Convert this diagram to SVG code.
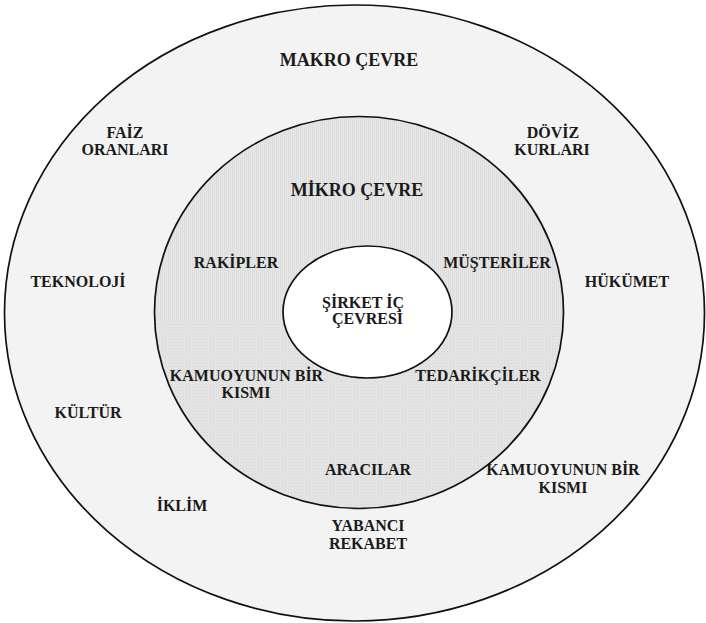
<svg xmlns="http://www.w3.org/2000/svg" width="706" height="623" viewBox="0 0 706 623">
  <style>
    .ring { stroke: #111; stroke-width: 1.7; }
    .lbl { font-family: "Liberation Serif", "Times New Roman", serif; font-weight: bold; font-size: 16px; fill: #1a1a1a; text-anchor: middle; }
    .head { font-size: 18px; }
  </style>
  <defs>
    <!-- fine vertical hatching for the upper part of the middle ring -->
    <pattern id="vlines" width="2" height="2" patternUnits="userSpaceOnUse">
      <rect width="2" height="2" fill="#e6e6e6"/>
      <rect width="1" height="2" fill="#dedede"/>
    </pattern>
    <!-- halftone dots for the lower part of the middle ring -->
    <pattern id="dots" width="3" height="3" patternUnits="userSpaceOnUse">
      <rect width="3" height="3" fill="#e6e6e6"/>
      <rect width="1" height="1" fill="#d2d2d2"/>
      <rect x="1.5" y="1.5" width="1" height="1" fill="#d8d8d8"/>
    </pattern>
    <clipPath id="midClip">
      <ellipse cx="359" cy="312.5" rx="204.5" ry="196"/>
    </clipPath>
  </defs>

  <!-- macro environment (outer ring) -->
  <g id="makro">
    <ellipse class="ring" cx="354.5" cy="313" rx="350" ry="308" fill="#f3f3f3"/>
    <text class="lbl head" x="349" y="66">MAKRO ÇEVRE</text>
    <text class="lbl" x="125" y="138">FAİZ</text>
    <text class="lbl" x="125" y="155">ORANLARI</text>
    <text class="lbl" x="553" y="138">DÖVİZ</text>
    <text class="lbl" x="552" y="155">KURLARI</text>
    <text class="lbl" x="78" y="287">TEKNOLOJİ</text>
    <text class="lbl" x="627" y="287">HÜKÜMET</text>
    <text class="lbl" x="88" y="418">KÜLTÜR</text>
    <text class="lbl" x="563" y="475">KAMUOYUNUN BİR</text>
    <text class="lbl" x="563" y="493">KISMI</text>
    <text class="lbl" x="182" y="511">İKLİM</text>
    <text class="lbl" x="368" y="531">YABANCI</text>
    <text class="lbl" x="368" y="549">REKABET</text>
  </g>

  <!-- micro environment (middle ring) -->
  <g id="mikro">
    <g clip-path="url(#midClip)">
      <rect x="150" y="110" width="420" height="212" fill="url(#vlines)"/>
      <rect x="150" y="322" width="420" height="192" fill="url(#dots)"/>
    </g>
    <ellipse class="ring" cx="359" cy="312.5" rx="204.5" ry="196" fill="none"/>
    <text class="lbl head" x="357" y="196">MİKRO ÇEVRE</text>
    <text class="lbl" x="236" y="268">RAKİPLER</text>
    <text class="lbl" x="497" y="268">MÜŞTERİLER</text>
    <text class="lbl" x="246.5" y="381">KAMUOYUNUN BİR</text>
    <text class="lbl" x="246" y="398">KISMI</text>
    <text class="lbl" x="478" y="381">TEDARİKÇİLER</text>
    <text class="lbl" x="368" y="475">ARACILAR</text>
  </g>

  <!-- company internal environment (core) -->
  <g id="sirket">
    <ellipse class="ring" cx="367.5" cy="312" rx="84.5" ry="66" fill="#ffffff"/>
    <text class="lbl" x="363" y="308">ŞİRKET İÇ</text>
    <text class="lbl" x="367.5" y="324">ÇEVRESİ</text>
  </g>

  <g id="connectors"/>
</svg>
